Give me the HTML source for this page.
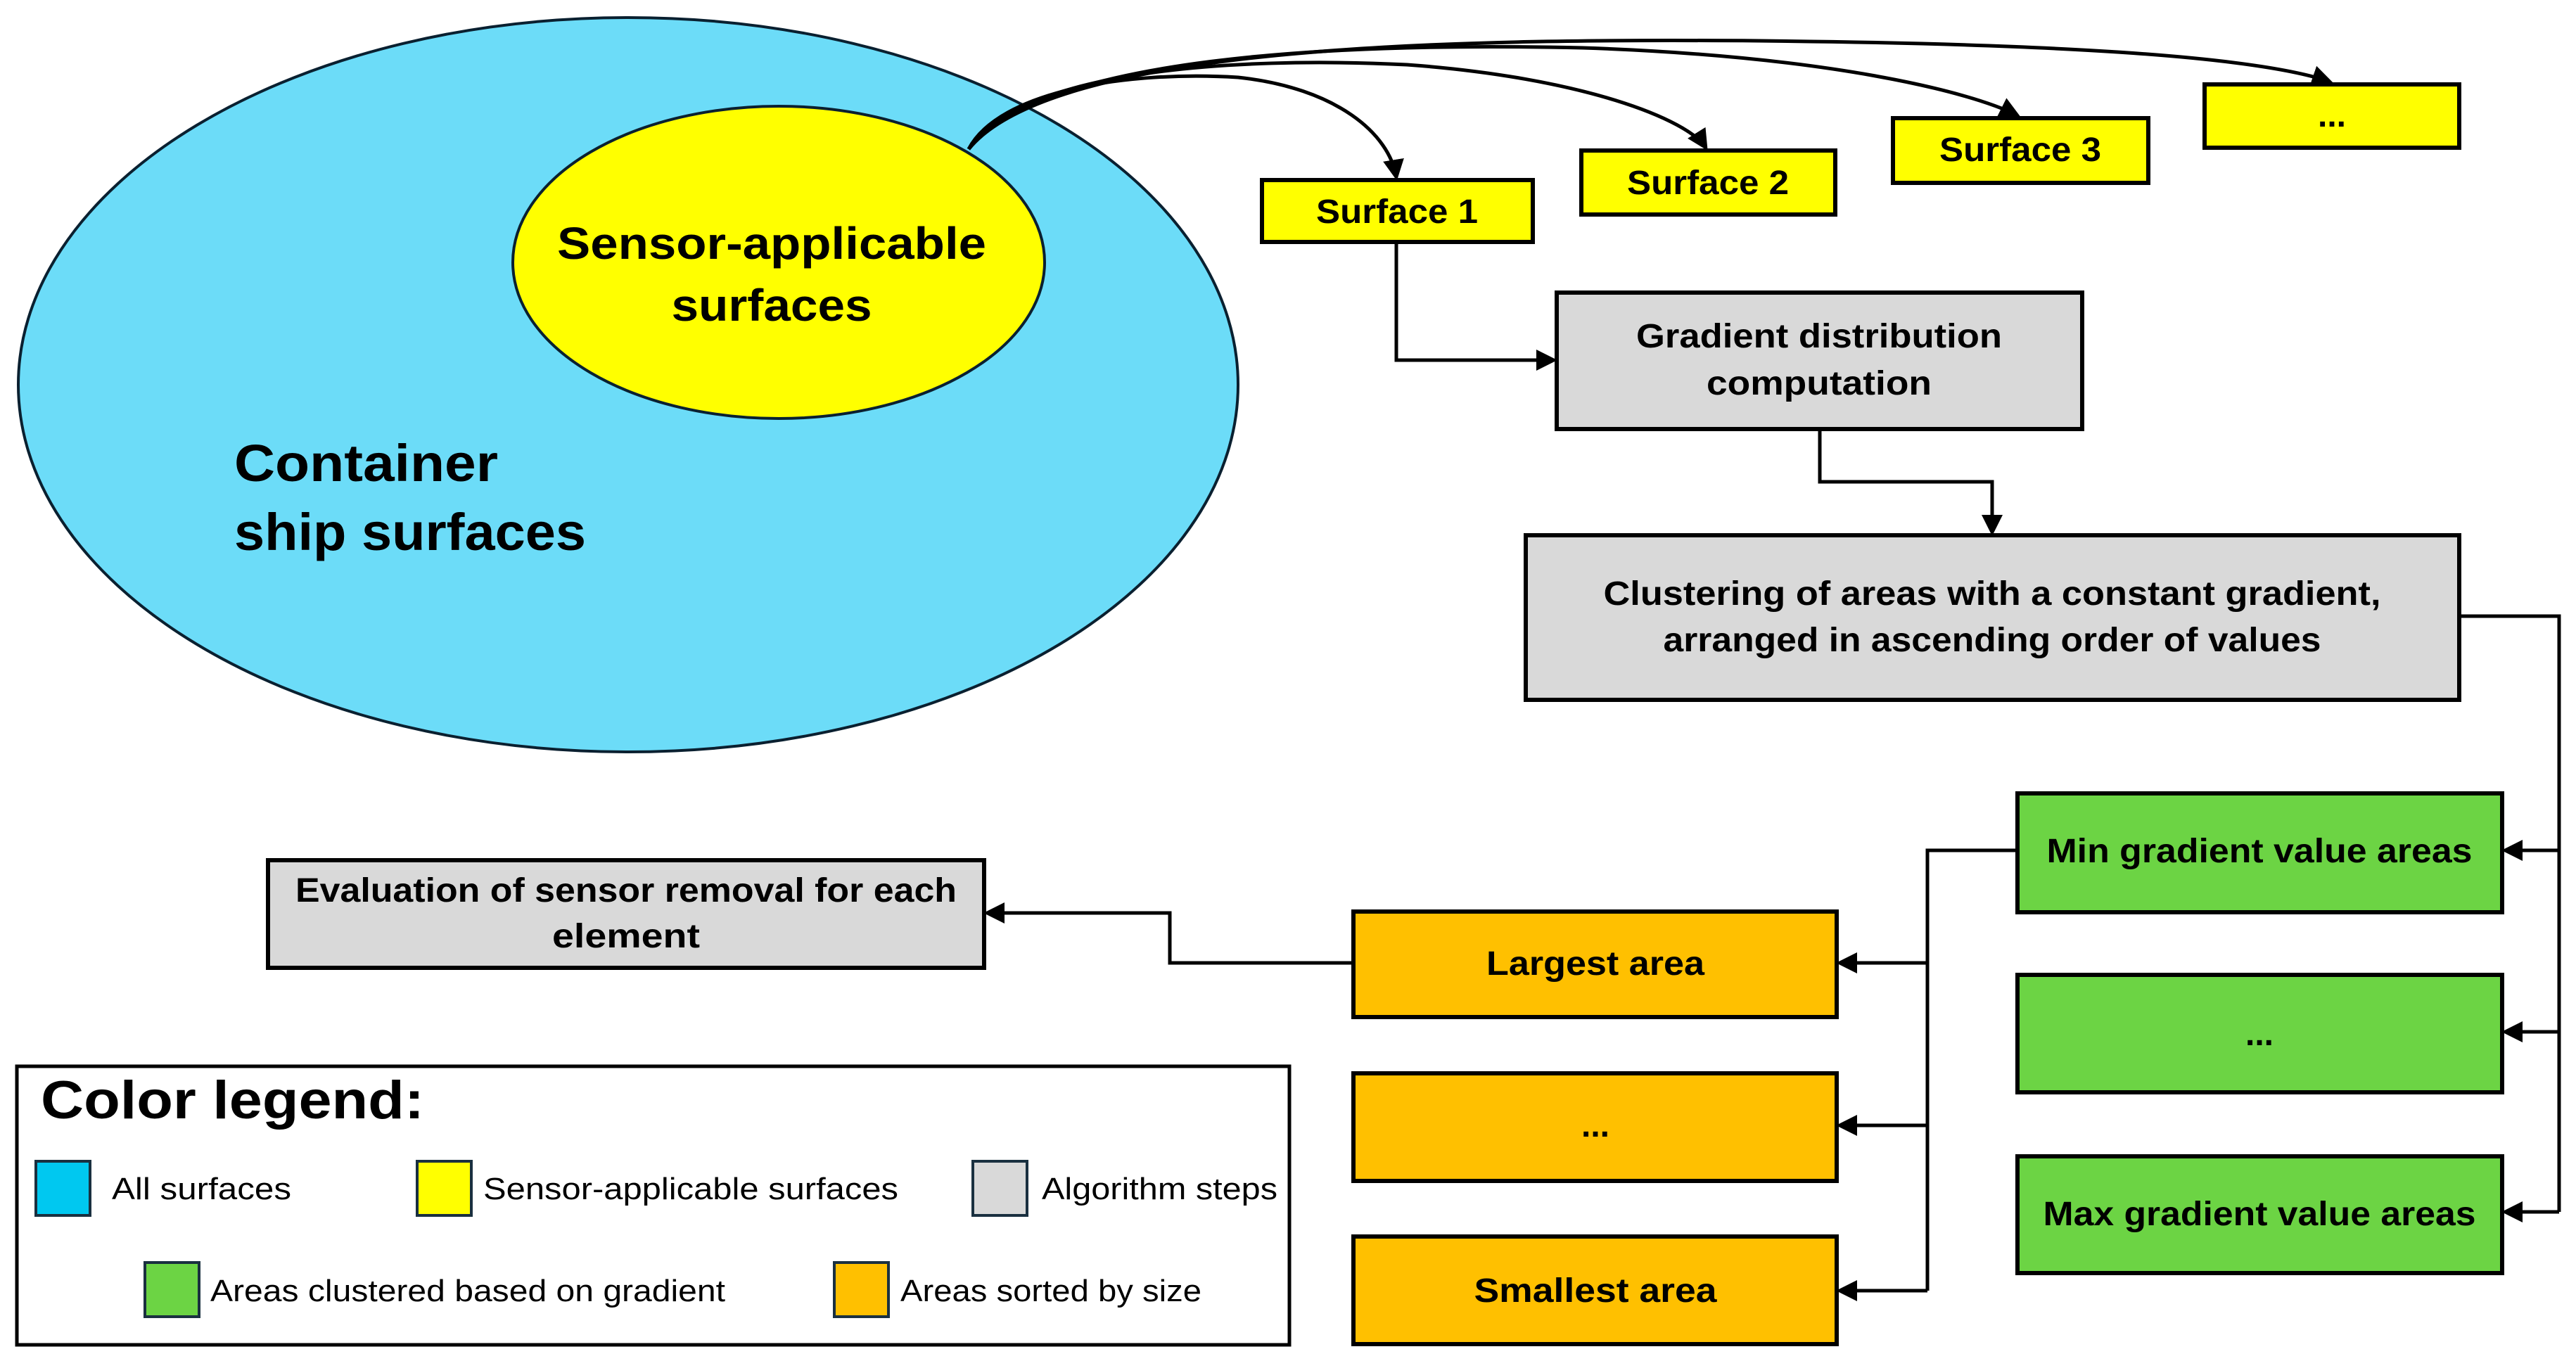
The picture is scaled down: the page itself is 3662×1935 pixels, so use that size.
<!DOCTYPE html>
<html><head><meta charset="utf-8"><style>
html,body{margin:0;padding:0;background:#fff}
svg{display:block}
text{font-family:"Liberation Sans",sans-serif;font-weight:bold;fill:#000}
</style></head><body>
<svg width="3662" height="1935" viewBox="0 0 3662 1935" xmlns="http://www.w3.org/2000/svg">
<defs>
<marker id="ar" markerWidth="6" markerHeight="6" refX="5" refY="3" orient="auto" markerUnits="strokeWidth">
<path d="M0,0 L6,3 L0,6 z" fill="#000"/></marker>
</defs>
<ellipse cx="893" cy="547" rx="867" ry="522" fill="#6cdcf8" stroke="#0a2030" stroke-width="4"/>
<ellipse cx="1107" cy="373" rx="378" ry="222" fill="#ffff00" stroke="#0a2030" stroke-width="4"/>
<text x="1097" y="368" font-size="64" text-anchor="middle" textLength="610" lengthAdjust="spacingAndGlyphs">Sensor-applicable</text>
<text x="1097" y="456" font-size="64" text-anchor="middle" textLength="285" lengthAdjust="spacingAndGlyphs">surfaces</text>
<text x="333" y="684" font-size="74" textLength="375" lengthAdjust="spacingAndGlyphs">Container</text>
<text x="333" y="782" font-size="74" textLength="500" lengthAdjust="spacingAndGlyphs">ship surfaces</text>

<g fill="none" stroke="#000" stroke-width="5">
<path d="M1377,212 C1420,130 1600,100 1760,110 C1900,125 1975,190 1985,252" marker-end="url(#ar)"/>
<path d="M1377,212 C1450,100 1750,80 2000,92 C2250,110 2400,170 2425,210" marker-end="url(#ar)"/>
<path d="M1377,212 C1480,80 1900,60 2250,68 C2600,80 2800,130 2868,164" marker-end="url(#ar)"/>
<path d="M1377,212 C1500,60 2100,55 2500,58 C2900,62 3200,78 3312,116" marker-end="url(#ar)"/>
</g>

<g stroke="#000" stroke-width="6" fill="#ffff00">
<rect x="1794" y="256" width="385" height="88"/>
<rect x="2248" y="214" width="361" height="91"/>
<rect x="2691" y="168" width="363" height="92"/>
<rect x="3134" y="120" width="362" height="90"/>
</g>
<text x="1986" y="317" font-size="48" text-anchor="middle" textLength="230" lengthAdjust="spacingAndGlyphs">Surface 1</text>
<text x="2428" y="276" font-size="48" text-anchor="middle" textLength="230" lengthAdjust="spacingAndGlyphs">Surface 2</text>
<text x="2872" y="229" font-size="48" text-anchor="middle" textLength="230" lengthAdjust="spacingAndGlyphs">Surface 3</text>
<text x="3315" y="180" font-size="48" text-anchor="middle">...</text>

<g stroke="#000" stroke-width="6" fill="#d9d9d9">
<rect x="2213" y="416" width="747" height="194"/>
<rect x="2169" y="761" width="1327" height="234"/>
<rect x="381" y="1223" width="1018" height="153"/>
</g>
<text x="2586" y="494" font-size="48" text-anchor="middle" textLength="520" lengthAdjust="spacingAndGlyphs">Gradient distribution</text>
<text x="2586" y="561" font-size="48" text-anchor="middle" textLength="320" lengthAdjust="spacingAndGlyphs">computation</text>
<text x="2832" y="860" font-size="48" text-anchor="middle" textLength="1105" lengthAdjust="spacingAndGlyphs">Clustering of areas with a constant gradient,</text>
<text x="2832" y="926" font-size="48" text-anchor="middle" textLength="935" lengthAdjust="spacingAndGlyphs">arranged in ascending order of values</text>
<text x="890" y="1282" font-size="48" text-anchor="middle" textLength="940" lengthAdjust="spacingAndGlyphs">Evaluation of sensor removal for each</text>
<text x="890" y="1347" font-size="48" text-anchor="middle" textLength="210" lengthAdjust="spacingAndGlyphs">element</text>

<g stroke="#000" stroke-width="6" fill="#6cd444">
<rect x="2868" y="1128" width="689" height="169"/>
<rect x="2868" y="1386" width="689" height="167"/>
<rect x="2868" y="1644" width="689" height="166"/>
</g>
<text x="3212" y="1226" font-size="48" text-anchor="middle" textLength="605" lengthAdjust="spacingAndGlyphs">Min gradient value areas</text>
<text x="3212" y="1486" font-size="48" text-anchor="middle">...</text>
<text x="3212" y="1742" font-size="48" text-anchor="middle" textLength="615" lengthAdjust="spacingAndGlyphs">Max gradient value areas</text>

<g stroke="#000" stroke-width="6" fill="#ffc000">
<rect x="1924" y="1296" width="687" height="150"/>
<rect x="1924" y="1526" width="687" height="153"/>
<rect x="1924" y="1758" width="687" height="153"/>
</g>
<text x="2268" y="1386" font-size="48" text-anchor="middle" textLength="310" lengthAdjust="spacingAndGlyphs">Largest area</text>
<text x="2268" y="1616" font-size="48" text-anchor="middle">...</text>
<text x="2268" y="1851" font-size="48" text-anchor="middle" textLength="345" lengthAdjust="spacingAndGlyphs">Smallest area</text>

<g fill="none" stroke="#000" stroke-width="5">
<path d="M1985,344 V512 H2209" marker-end="url(#ar)"/>
<path d="M2587,610 V685 H2832 V757" marker-end="url(#ar)"/>
<path d="M3496,876 H3638 V1723"/>
<path d="M3638,1209 H3561" marker-end="url(#ar)"/>
<path d="M3638,1467 H3561" marker-end="url(#ar)"/>
<path d="M3638,1723 H3561" marker-end="url(#ar)"/>
<path d="M2868,1209 H2740 V1835"/>
<path d="M2740,1369 H2615" marker-end="url(#ar)"/>
<path d="M2740,1600 H2615" marker-end="url(#ar)"/>
<path d="M2740,1835 H2615" marker-end="url(#ar)"/>
<path d="M1924,1369 H1663 V1298 H1403" marker-end="url(#ar)"/>
</g>

<rect x="24" y="1516" width="1809" height="396" fill="#fff" stroke="#000" stroke-width="5"/>
<text x="58" y="1590" font-size="76" textLength="545" lengthAdjust="spacingAndGlyphs">Color legend:</text>
<g stroke="#1a3040" stroke-width="4">
<rect x="51" y="1651" width="77" height="77" fill="#00c8f0"/>
<rect x="593" y="1651" width="77" height="77" fill="#ffff00"/>
<rect x="1383" y="1651" width="77" height="77" fill="#d9d9d9"/>
<rect x="206" y="1795" width="77" height="77" fill="#6cd444"/>
<rect x="1186" y="1795" width="77" height="77" fill="#ffc000"/>
</g>
<text x="159" y="1705" font-size="44" style="font-weight:normal" textLength="255" lengthAdjust="spacingAndGlyphs">All surfaces</text>
<text x="687" y="1705" font-size="44" style="font-weight:normal" textLength="590" lengthAdjust="spacingAndGlyphs">Sensor-applicable surfaces</text>
<text x="1481" y="1705" font-size="44" style="font-weight:normal" textLength="335" lengthAdjust="spacingAndGlyphs">Algorithm steps</text>
<text x="299" y="1850" font-size="44" style="font-weight:normal" textLength="732" lengthAdjust="spacingAndGlyphs">Areas clustered based on gradient</text>
<text x="1280" y="1850" font-size="44" style="font-weight:normal" textLength="428" lengthAdjust="spacingAndGlyphs">Areas sorted by size</text>
</svg>
</body></html>
